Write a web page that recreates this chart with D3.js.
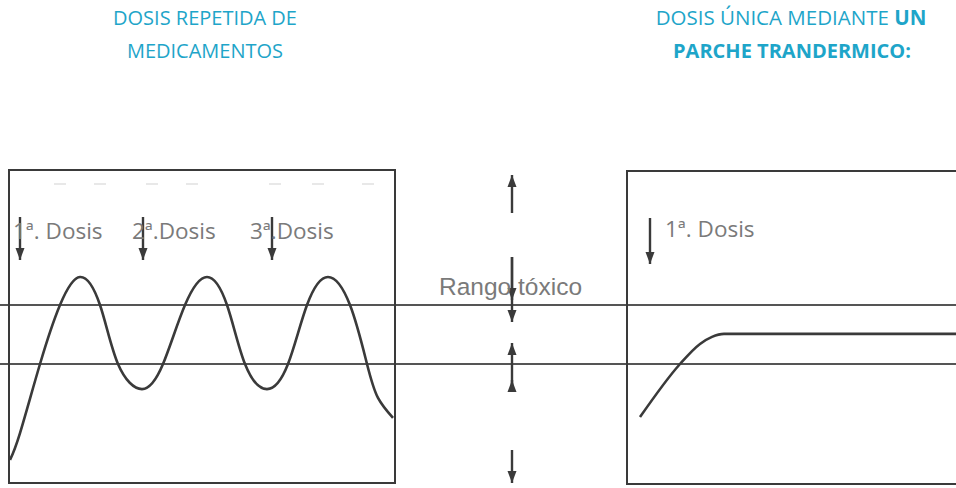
<!DOCTYPE html>
<html>
<head>
<meta charset="utf-8">
<script src="https://cdn.jsdelivr.net/npm/d3@7"></script>
<style>
  body { margin: 0; background: #fff; }
  svg { display: block; }
</style>
</head>
<body>
<svg id="draw" width="956" height="488"></svg>
<script>
// ---------------------------------------------------------------------------
// data (time in arbitrary units, concentration in % of scale)
var waveTime = [0, 2.5, 7.5, 12.5, 17.5, 22.5, 27, 33, 38.25, 43.75, 49.25, 54.25, 58.75, 64.25, 69.5, 74.25, 79.5, 85, 89.25, 92, 95.75];
var waveConc = [7.5, 16.6, 40, 60, 69.5, 60, 40, 31.5, 40, 60, 69.5, 60, 40, 31.5, 40, 60, 69.5, 60, 40, 28.5, 21.7];

var patchTime = [0, 10, 15, 18, 21, 96];
var patchConc = [22, 40, 46.8, 49.2, 50.2, 50.2];

var rangeLevels = [40, 60];           // lower / upper line of the range
var doseTimes = [2.5, 33.25, 65.5];   // repeated doses
var doseLabels = ["1ª. Dosis", "2ª.Dosis", "3ª.Dosis"];
var doseLabelTimes = [0.75, 30.5, 60];
var patchDoseTimes = [2.5];
var patchDoseLabels = ["1ª. Dosis"];

var titleLeft = ["DOSIS REPETIDA DE", "MEDICAMENTOS"];
var titleRight1 = "DOSIS ÚNICA MEDIANTE ";
var titleRight1b = "UN";
var titleRight2 = "PARCHE TRANDERMICO:";
var rangeLabel = "Rango tóxico";

// ---------------------------------------------------------------------------
var w = 956, h = 488;
var svg = d3.select("#draw");
var ink = "#3a3a3a";
var blue = "#1ea5c9";
var grey = "#7a7a7a";

var y = d3.scaleLinear().domain([0, 100]).range([482, 187]);
var xLeft = d3.scaleLinear().domain([0, 96]).range([10, 394]);
var xRight = d3.scaleLinear().domain([0, 96]).range([640, 1024]);

function arrow(g, x, y1, y2, headAt) {
    // shaft from y1 to y2, triangle head pointing toward y2 (or at headAt)
    var tip = headAt === undefined ? y2 : headAt;
    var dir = y2 > y1 ? 1 : -1;
    g.append("line")
        .attr("x1", x).attr("x2", x)
        .attr("y1", y1).attr("y2", y2)
        .attr("stroke", ink).attr("stroke-width", 2.4);
    g.append("path")
        .attr("d", "M" + (x - 4.5) + "," + (tip - dir * 12) + "L" + (x + 4.5) + "," + (tip - dir * 12) + "L" + x + "," + tip + "Z")
        .attr("fill", ink);
}

// titles
var tl = svg.append("text")
    .attr("text-anchor", "middle")
    .attr("font-family", "Open Sans")
    .attr("font-size", 20)
    .attr("fill", blue);
tl.selectAll("tspan").data(titleLeft).enter().append("tspan")
    .attr("x", 205)
    .attr("y", (d, i) => 25 + i * 33)
    .text(d => d);

var tr1 = svg.append("text")
    .attr("x", 791).attr("y", 25)
    .attr("text-anchor", "middle")
    .attr("font-family", "Open Sans")
    .attr("font-size", 20.5)
    .attr("fill", blue);
tr1.append("tspan").text(titleRight1);
tr1.append("tspan").attr("font-weight", "bold").text(titleRight1b);
svg.append("text")
    .attr("x", 792).attr("y", 58)
    .attr("text-anchor", "middle")
    .attr("font-family", "Open Sans")
    .attr("font-weight", "bold")
    .attr("font-size", 20)
    .attr("fill", blue)
    .text(titleRight2);

// range lines across the whole picture
svg.selectAll("line.range")
    .data(rangeLevels)
    .enter()
    .append("line")
    .attr("class", "range")
    .attr("x1", 0).attr("x2", w)
    .attr("y1", d => y(d)).attr("y2", d => y(d))
    .attr("stroke", "#555").attr("stroke-width", 1.8);

// frames
svg.append("rect")
    .attr("x", 9).attr("y", 170)
    .attr("width", 386).attr("height", 313)
    .attr("fill", "none").attr("stroke", ink).attr("stroke-width", 2);
svg.append("rect")
    .attr("x", 627).attr("y", 171)
    .attr("width", 340).attr("height", 313)
    .attr("fill", "none").attr("stroke", ink).attr("stroke-width", 2);

// faint scan ticks at top of left frame
svg.selectAll("line.tick")
    .data([60, 100, 152, 192, 275, 318, 368])
    .enter()
    .append("line")
    .attr("class", "tick")
    .attr("x1", d => d - 6).attr("x2", d => d + 6)
    .attr("y1", 184).attr("y2", 184)
    .attr("stroke", "#e0e0e0").attr("stroke-width", 1.5);

// curves
var waveLine = d3.line()
    .x((d, i) => xLeft(waveTime[i]))
    .y(d => y(d))
    .curve(d3.curveNatural);
svg.append("path")
    .datum(waveConc)
    .attr("d", waveLine)
    .attr("fill", "none")
    .attr("stroke", ink)
    .attr("stroke-width", 2.6);

var patchLine = d3.line()
    .x((d, i) => xRight(patchTime[i]))
    .y(d => y(d))
    .curve(d3.curveMonotoneX);
svg.append("path")
    .datum(patchConc)
    .attr("d", patchLine)
    .attr("fill", "none")
    .attr("stroke", ink)
    .attr("stroke-width", 2.6);

// dose arrows + labels
var ga = svg.append("g");
doseTimes.forEach(function (t) { arrow(ga, xLeft(t), 217, 260); });
patchDoseTimes.forEach(function (t) { arrow(ga, xRight(t), 218, 264); });

svg.selectAll("text.dose")
    .data(doseLabels)
    .enter()
    .append("text")
    .attr("class", "dose")
    .attr("x", (d, i) => xLeft(doseLabelTimes[i]))
    .attr("y", 239)
    .attr("font-family", "Open Sans")
    .attr("font-size", 22.5)
    .attr("fill", grey)
    .text(d => d);
svg.selectAll("text.pdose")
    .data(patchDoseLabels)
    .enter()
    .append("text")
    .attr("class", "pdose")
    .attr("x", 665)
    .attr("y", 237)
    .attr("font-family", "Open Sans")
    .attr("font-size", 22.5)
    .attr("fill", grey)
    .text(d => d);

// middle arrows
var mx = 512;
arrow(ga, mx, 213, 175);
arrow(ga, mx, 257, 322);
arrow(ga, mx, 257, 300, 300);
arrow(ga, mx, 392, 343);
arrow(ga, mx, 392, 380, 380);
arrow(ga, mx, 450, 483);

svg.append("text")
    .attr("x", 439).attr("y", 295)
    .attr("font-family", "Liberation Sans")
    .attr("font-size", 24.5)
    .attr("fill", grey)
    .text(rangeLabel);
</script>
</body>
</html>
